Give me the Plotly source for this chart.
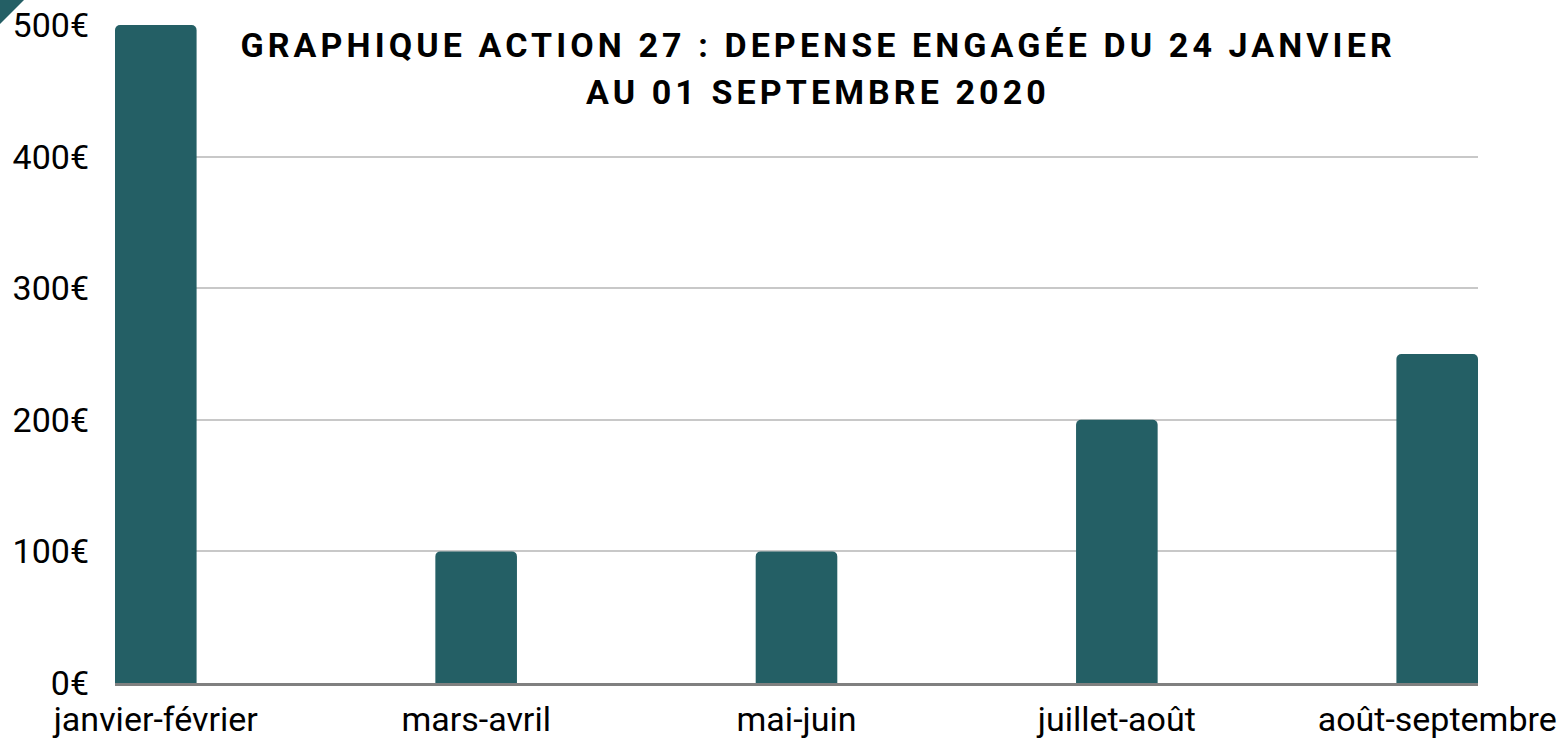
import plotly.graph_objects as go

# Dépenses engagées par période (en euros)
periodes = ["janvier-février", "mars-avril", "mai-juin", "juillet-août", "août-septembre"]
depenses = [500, 100, 100, 200, 250]

y_ticks = [0, 100, 200, 300, 400, 500]
y_tick_labels = ["0€", "100€", "200€", "300€", "400€", "500€"]

titre_ligne_1 = "GRAPHIQUE ACTION 27 : DEPENSE ENGAGÉE DU 24 JANVIER"
titre_ligne_2 = "AU 01 SEPTEMBRE 2020"

TEAL = "#245F65"
FONT = "Roboto, 'Open Sans', sans-serif"
BAR_WIDTH = 0.2547

fig = go.Figure(
    go.Bar(
        x=list(range(len(periodes))),
        y=depenses,
        width=BAR_WIDTH,
        marker=dict(color=TEAL, line=dict(width=0)),
        hoverinfo="skip",
    )
)

fig.update_layout(
    width=1561,
    height=740,
    margin=dict(l=115, r=83, t=25, b=57, autoexpand=False),
    paper_bgcolor="white",
    plot_bgcolor="white",
    showlegend=False,
    barcornerradius=5,
    font=dict(family=FONT, size=34, color="#000000"),
    xaxis=dict(
        tickmode="array",
        tickvals=list(range(len(periodes))),
        ticktext=periodes,
        range=[-BAR_WIDTH / 2, len(periodes) - 1 + BAR_WIDTH / 2],
        showgrid=False,
        zeroline=False,
        showline=True,
        linecolor="#808080",
        linewidth=2.5,
        ticks="",
        ticklabelstandoff=4,
        automargin=False,
        tickfont=dict(family=FONT, size=34, color="#000000"),
        fixedrange=True,
    ),
    yaxis=dict(
        range=[0, 500],
        tickmode="array",
        tickvals=y_ticks,
        ticktext=y_tick_labels,
        showgrid=True,
        gridcolor="#C8C8C8",
        gridwidth=2,
        zeroline=False,
        showline=False,
        ticks="",
        ticklabelstandoff=25,
        automargin=False,
        tickfont=dict(family=FONT, size=34, color="#000000"),
        fixedrange=True,
    ),
    annotations=[
        dict(
            text=f"<b>{titre_ligne_1}</b>",
            xref="paper", yref="paper",
            x=0.516, y=1,
            xanchor="center", yanchor="top",
            yshift=2,
            showarrow=False,
            font=dict(family=FONT, size=34, color="#000000"),
        ),
        dict(
            text=f"<b>{titre_ligne_2}</b>",
            xref="paper", yref="paper",
            x=0.516, y=1,
            xanchor="center", yanchor="top",
            yshift=-45,
            showarrow=False,
            font=dict(family=FONT, size=34, color="#000000"),
        ),
    ],
    shapes=[
        # small corner tab in the top-left of the page
        dict(
            type="path",
            xref="paper", yref="paper",
            xsizemode="pixel", ysizemode="pixel",
            xanchor=0, yanchor=1,
            path="M -115,25 L -91,25 L -115,1 Z",
            fillcolor=TEAL,
            line=dict(width=0),
        )
    ],
)

# wider tracking on the title lines
letter_spacing_js = (
    "var s=document.createElement('style');"
    "s.textContent='.annotation-text{letter-spacing:4.1px;}';"
    "document.head.appendChild(s);"
)

fig.write_html("out.html", config={"displayModeBar": False}, post_script=letter_spacing_js)
